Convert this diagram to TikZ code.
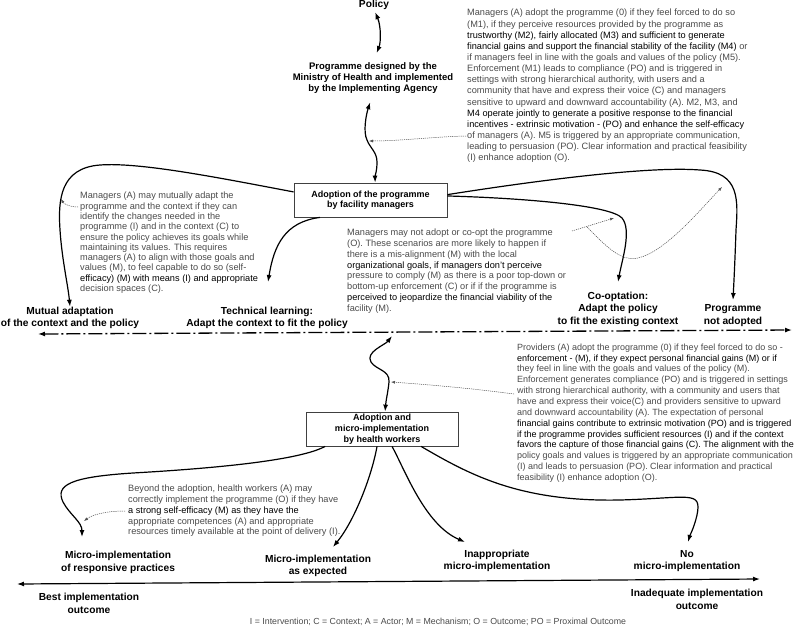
\documentclass[tikz,border=0pt]{standalone}
\usepackage{fontspec}
\setmainfont{Liberation Sans}
\usetikzlibrary{arrows.meta}
\definecolor{txtgray}{HTML}{4A4A4A}
\definecolor{dotgray}{HTML}{505050}
\begin{document}
\begin{tikzpicture}[x=1pt,y=-1pt,
  body/.style={font=\fontsize{9.2}{10.9}\selectfont, text=txtgray, align=left, inner sep=0pt, anchor=north west},
  lab/.style={font=\fontsize{10.2}{12.6}\selectfont\bfseries, align=center, inner sep=0pt},
  boxn/.style={draw=black!75, line width=0.8pt, font=\fontsize{9}{10.6}\selectfont\bfseries, align=center, inner sep=0pt},
  conn/.style={line width=1.2pt, -{Latex[length=7pt,width=5pt]}},
  both/.style={line width=1.2pt, {Latex[length=7pt,width=5pt]}-{Latex[length=7pt,width=5pt]}},
  dots/.style={draw=dotgray, line width=0.5pt, dash pattern=on 1.2pt off 0.9pt, -{Latex[length=4pt,width=3pt]}},
  dotsplain/.style={draw=dotgray, line width=0.5pt, dash pattern=on 1.2pt off 0.9pt}]
\useasboundingbox (0,0) rectangle (797,627);

% ---------- nodes ----------
\node[lab] (policy) at (374,4.5) {Policy};
\node[lab, font=\fontsize{9.5}{11}\selectfont\bfseries] (prog) at (373,78) {Programme designed by the\\Ministry of Health and implemented\\by the Implementing Agency};
\node[boxn, minimum width=153pt, minimum height=34pt] (b1) at (370.5,200) {Adoption of the programme\\by facility managers};
\node[boxn, minimum width=152pt, minimum height=34pt, font=\fontsize{9}{11}\selectfont\bfseries] (b2) at (382,429) {Adoption and\\micro-implementation\\by health workers};

\node[body, font=\fontsize{9.2}{11.15}\selectfont] (t1) at (467,9) {Managers (A) adopt the programme (0) if they feel forced to do so\\
(M1), if they perceive resources provided by the programme as\\
\textcolor{black}{trustworthy (M2), fairly allocated (M3) and sufficient to generate}\\
\textcolor{black}{financial gains and support the financial stability of the facility (M4)} or\\
if managers feel in line with the goals and values of the policy (M5).\\
Enforcement (M1) leads to compliance (PO) and is triggered in\\
settings with strong hierarchical authority, with users and a\\
community that have and express their voice (C) and managers\\
sensitive to upward and downward accountability (A). M2, M3, and\\
\textcolor{black}{M4 operate jointly to generate a positive response to the financial}\\
\textcolor{black}{incentives - extrinsic motivation - (PO) and enhance the self-efficacy}\\
of managers (A). M5 is triggered by an appropriate communication,\\
leading to persuasion (PO). Clear information and practical feasibility\\
(I) enhance adoption (O).};

\node[body, font=\fontsize{9.2}{10.3}\selectfont] (t2) at (80,192) {Managers (A) may mutually adapt the\\
programme and the context if they can\\
identify the changes needed in the\\
programme (I) and in the context (C) to\\
ensure the policy achieves its goals while\\
maintaining its values. This requires\\
managers (A) to align with those goals and\\
values (M), to feel capable to do so (self-\\
\textcolor{black}{efficacy) (M) with means (I) and appropriate}\\
decision spaces (C).};

\node[body] (t3) at (347,228.5) {Managers may not adopt or co-opt the programme\\
(O). These scenarios are more likely to happen if\\
there is a mis-alignment (M) with the local\\
\textcolor{black}{organizational goals, if managers don't perceive}\\
pressure to comply (M) as there is a poor top-down or\\
bottom-up enforcement (C) or if if the programme is\\
\textcolor{black}{perceived to jeopardize the financial viability of the}\\
facility (M).};

\node[body, font=\fontsize{9}{10.85}\selectfont] (t4) at (517,343.5) {Providers (A) adopt the programme (0) if they feel forced to do so -\\
\textcolor{black}{enforcement - (M), if they expect personal financial gains (M) or if}\\
they feel in line with the goals and values of the policy (M).\\
Enforcement generates compliance (PO) and is triggered in settings\\
with strong hierarchical authority, with a community and users that\\
have and express their voice(C) and providers sensitive to upward\\
and downward accountability (A). The expectation of personal\\
\textcolor{black}{financial gains contribute to extrinsic motivation (PO) and is triggered}\\
\textcolor{black}{if the programme provides sufficient resources (I) and if the context}\\
\textcolor{black}{favors the capture of those financial gains (C). The alignment with the}\\
policy goals and values is triggered by an appropriate communication\\
(I) and leads to persuasion (PO). Clear information and practical\\
feasibility (I) enhance adoption (O).};

\node[body] (t5) at (128,484.5) {Beyond the adoption, health workers (A) may\\
correctly implement the programme (O) if they have\\
\textcolor{black}{a strong self-efficacy (M) as they have the}\\
appropriate competences (A) and appropriate\\
resources timely available at the point of delivery (I).};

\node[lab] (mut) at (70,318) {Mutual adaptation\\of the context and the policy};
\node[lab] (tech) at (267,318) {Technical learning:\\Adapt the context to fit the policy};
\node[lab] (coopt) at (618,309) {Co-optation:\\Adapt the policy\\to fit the existing context};
\node[lab] (notad) at (733,315.5) {Programme\\not adopted};
\node[lab] (mresp) at (118,562.5) {Micro-implementation\\of responsive practices};
\node[lab] (mexp) at (318,566) {Micro-implementation\\as expected};
\node[lab] (minapp) at (497,561) {Inappropriate\\micro-implementation};
\node[lab] (mno) at (687,561) {No\\micro-implementation};
\node[lab] (best) at (89,603.5) {Best implementation\\outcome};
\node[lab] (inad) at (697,599.5) {Inadequate implementation\\outcome};
\node[font=\fontsize{8.8}{10}\selectfont, text=txtgray, inner sep=0pt] (legend) at (438,622) {I = Intervention; C = Context; A = Actor; M = Mechanism; O = Outcome; PO = Proximal Outcome};

% ---------- coordinates ----------
\coordinate (techtip) at (268,282);
\coordinate (cooptip) at (618,282);
\coordinate (notadtip) at (733,300);
\coordinate (resptip) at (82,537);
\coordinate (exptip) at (333,547);
\coordinate (inapptip) at (465,542);
\coordinate (notip) at (688,542);
\coordinate (dl) at (38,334);
\coordinate (dr) at (792,330);
\coordinate (bl) at (17,584);
\coordinate (br) at (760,579);
\coordinate (w3t) at (392,336);

% ---------- main connectors ----------
\draw[both, shorten <=3pt, shorten >=10pt] (policy.south) .. controls (381,26) and (381,42) .. (prog.north);
\draw[both, shorten <=9pt] (prog.south) .. controls (366,115) and (363,132) .. (367,140) .. controls (370,148) and (377,152) .. (377,162) .. controls (377,171) and (375,176) .. (b1.75);

\draw[conn] (b1.174) .. controls (220,178) and (140,162) .. (100,165) .. controls (60,168) and (58,200) .. (60,230) .. controls (62,260) and (68,285) .. (mut.north);
\draw[conn] (b1.199) .. controls (285,222) and (274,245) .. (techtip);
\draw[conn] (b1.3) .. controls (520,198) and (610,205) .. (622,218) .. controls (632,230) and (622,260) .. (cooptip);
\draw[conn] (b1.4) .. controls (540,180) and (650,166) .. (700,170) .. controls (740,172) and (738,200) .. (736,230) .. controls (735,260) and (734,280) .. (notadtip);

\draw[line width=1.3pt, dash pattern=on 14pt off 3pt on 2pt off 3pt, {Latex[length=7pt,width=5pt]}-{Latex[length=7pt,width=5pt]}] (dl) -- (dr);

\draw[both] (w3t) .. controls (385,345) and (365,352) .. (371,362) .. controls (376,370) and (390,370) .. (389,382) .. controls (388,392) and (386,400) .. (b2.80);

\draw[conn] (b2.197) .. controls (300,460) and (220,468) .. (133,473) .. controls (70,477) and (55,485) .. (63,502) .. controls (70,515) and (82,522) .. (resptip);
\draw[conn] (b2.254) .. controls (372,475) and (355,520) .. (exptip);
\draw[conn] (b2.300) .. controls (405,470) and (425,525) .. (inapptip);
\draw[conn] (b2.336) .. controls (470,475) and (520,502) .. (620,500) .. controls (690,498) and (702,490) .. (697,515) .. controls (694,528) and (690,535) .. (notip);

\draw[line width=1.2pt, {Latex[length=7pt,width=5pt]}-{Latex[length=7pt,width=5pt]}] (bl) -- (br);

% ---------- dotted connectors ----------
\coordinate (d1s) at (466,136);
\coordinate (d1e) at (369,141);
\draw[dots] (d1s) .. controls (430,137) and (400,141) .. (d1e);
\coordinate (d2s) at (78,207);
\coordinate (d2e) at (61,199);
\draw[dots] (d2s) .. controls (70,207) and (64,204) .. (d2e);
\coordinate (d3s) at (572,231);
\coordinate (d3e) at (614,218);
\coordinate (d3b) at (587,227);
\coordinate (d3f) at (722,187);
\draw[dots] (d3s) -- (d3e);
\draw[dots] (d3b) .. controls (605,245) and (620,262) .. (638,258) .. controls (665,252) and (700,210) .. (d3f);
\coordinate (d4s) at (514,394);
\coordinate (d4e) at (391,382);
\draw[dots] (d4s) .. controls (470,388) and (420,384) .. (d4e);
\coordinate (d5s) at (125,511);
\coordinate (d5e) at (84,521);
\draw[dots] (d5s) .. controls (105,511) and (92,515) .. (d5e);
\end{tikzpicture}
\end{document}
